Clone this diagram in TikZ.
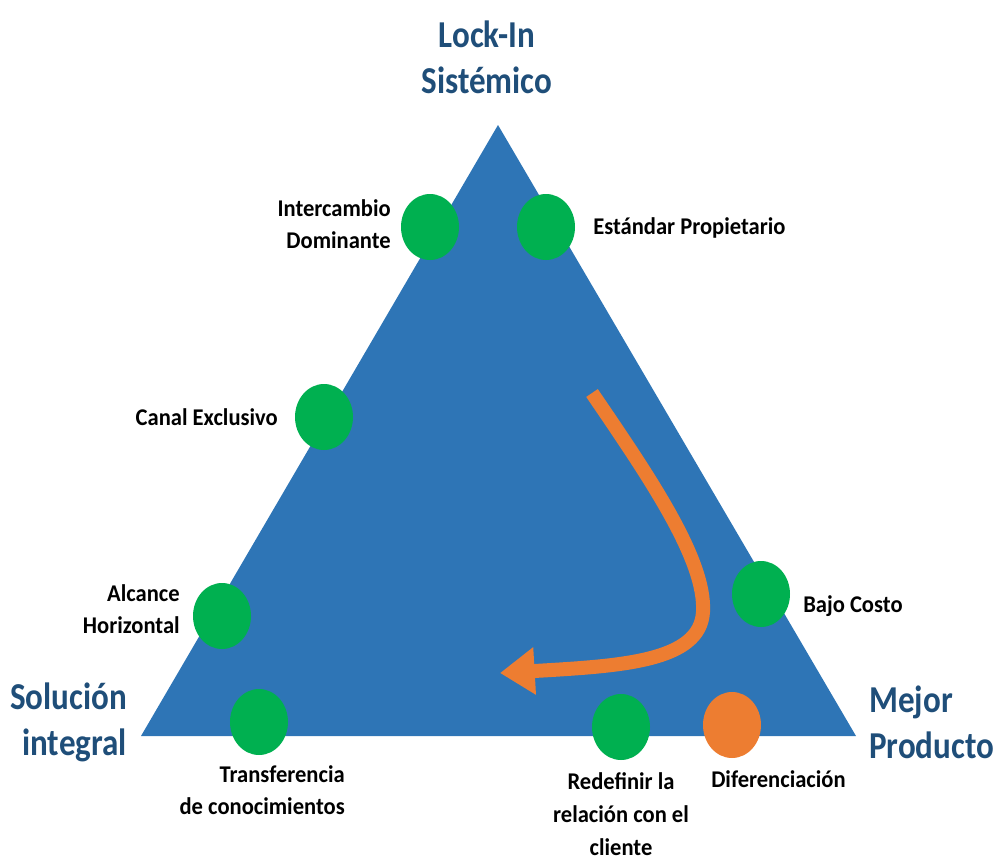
\documentclass[tikz,border=0pt]{standalone}
\usepackage{fontspec}
\usetikzlibrary{arrows.meta,shapes.geometric}
\newfontfamily\labelfont{Carlito}[FakeStretch=0.94]
\newfontfamily\titlefont{Carlito}[FakeStretch=0.87]
\definecolor{triblue}{RGB}{46,117,182}
\definecolor{dotgreen}{RGB}{0,176,80}
\definecolor{dotorange}{RGB}{237,125,49}
\definecolor{titleblue}{RGB}{31,78,121}
\tikzset{
  dot/.style={ellipse, minimum width=43.5pt, minimum height=49.5pt, inner sep=0, fill=dotgreen},
  hotdot/.style={dot, fill=dotorange},
  lbl/.style={inner sep=0, font=\labelfont\bfseries\fontsize{18}{24.5}\selectfont, text=black},
  corner/.style={inner sep=0, font=\titlefont\bfseries\fontsize{28.5}{34.5}\selectfont, text=titleblue},
  flow/.style={draw=dotorange, line width=10.5pt, line cap=butt,
               -{Triangle[length=26pt, width=34pt]}}
}
\begin{document}
\begin{tikzpicture}[x=0.75pt, y=-0.75pt]
\useasboundingbox (0,0) rectangle (1000,861);

% the triangle
\coordinate (apex) at (498,125);
\coordinate (bl) at (141,736);
\coordinate (br) at (856,736);
\fill[triblue] (apex) -- (bl) -- (br) -- cycle;

% corner titles
\node[corner, align=center] (lockin) at (487,57) {Lock-In\\Sistémico};
\node[corner, align=right, anchor=east] (solucion) at (127,722) {Solución\\integral};
\node[corner, align=left, anchor=west] (mejor) at (869,722) {Mejor\\Producto};

% orange flow arrow
\coordinate (flowstart) at (592,393);
\coordinate (flowturn) at (703,612);
\coordinate (flowend) at (500,673);
\draw[flow] (flowstart) .. controls (650,478) and (706,560) .. (flowturn)
            .. controls (700,662) and (620,666) .. (flowend);

% strategy dots
\node[dot] (intercambio) at (430,227) {};
\node[dot] (estandar) at (546,227) {};
\node[dot] (canal) at (324,417) {};
\node[dot] (alcance) at (222,616) {};
\node[dot] (transfer) at (259,722) {};
\node[dot] (bajo) at (761,594) {};
\node[dot] (redefinir) at (621,727) {};
\node[hotdot] (difer) at (732,725) {};

% dot labels
\node[lbl, align=right, anchor=east] (tIntercambio) at (391,224) {Intercambio\\Dominante};
\node[lbl, anchor=west] (tEstandar) at (593,228) {Estándar Propietario};
\node[lbl, anchor=east] (tCanal) at (278,417) {Canal Exclusivo};
\node[lbl, align=right, anchor=east] (tAlcance) at (180,609) {Alcance\\Horizontal};
\node[lbl, anchor=west] (tBajo) at (803,606) {Bajo Costo};
\node[lbl, align=right, anchor=east] (tTransfer) at (345,790) {Transferencia\\de conocimientos};
\node[lbl, align=center] (tRedefinir) at (621,814) {Redefinir la\\relación con el\\cliente};
\node[lbl, anchor=west] (tDifer) at (711,779) {Diferenciación};
\end{tikzpicture}
\end{document}
